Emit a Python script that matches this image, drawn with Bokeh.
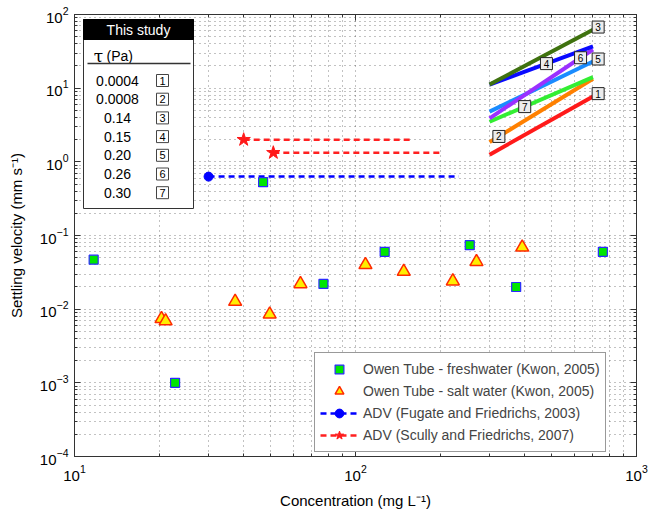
import math
from bokeh.plotting import figure
from bokeh.models import (LogAxis, Legend, LegendItem, Range1d, LinearScale,
                          CustomJSTickFormatter, FixedTicker, LogTickFormatter)
from bokeh.core.properties import value
from bokeh.embed import file_html
from bokeh.resources import INLINE

FONT = "Liberation Sans"

# ---------------- data ----------------
# Owen tube - freshwater (Kwon, 2005)
fresh_conc = [11.7, 22.8, 46.9, 76.9, 127, 255, 373, 759]
fresh_ws = [0.047, 0.001, 0.53, 0.022, 0.060, 0.074, 0.020, 0.060]
# Owen tube - salt water (Kwon, 2005)
salt_conc = [20.4, 21.1, 37.3, 49.5, 63.7, 108.5, 148.5, 222, 269.5, 392]
salt_ws = [0.0074, 0.0069, 0.0127, 0.0085, 0.022, 0.040, 0.0324, 0.024, 0.044, 0.069]
# ADV (Fugate and Friedrichs, 2003)
fug_conc = [30, 233]
fug_ws = [0.63, 0.63]
# ADV (Scully and Friedrichs, 2007)
scully1_conc = [40, 158]
scully1_ws = [2.0, 2.0]
scully2_conc = [51, 200]
scully2_ws = [1.33, 1.33]
scully_star_conc = [40, 51]
scully_star_ws = [2.0, 1.33]
# This study
study_ids = ["1", "2", "3", "4", "5", "6", "7"]
study_tau = ["0.0004", "0.0008", "0.14", "0.15", "0.20", "0.26", "0.30"]
study_conc = [300, 700]
study_ws_start = [1.25, 1.85, 11.2, 11.2, 4.8, 3.9, 3.5]
study_ws_end = [7.7, 13.4, 62.0, 36.8, 23.0, 33.5, 14.1]
study_colors = ["#ff1a1a", "#ff8000", "#3f720f", "#0a0aff", "#1a8cff", "#9b30ff", "#33ee33"]
label_frac = [1.05, 0.09, 1.05, 0.55, 1.05, 0.88, 0.34]
draw_order = [0, 1, 6, 4, 5, 3, 2]

# axis ticks
x_major = [10, 100, 1000]
y_major = [1e-4, 1e-3, 1e-2, 1e-1, 1, 10, 100]
x_minor = [m * 10 ** e for e in (1, 2) for m in range(2, 10)]
y_minor = [m * 10.0 ** e for e in range(-4, 2) for m in range(2, 10)]

# ---------------- figure ----------------
p = figure(width=648, height=512, x_axis_type="log", y_axis_type="log",
           x_range=(10, 1000), y_range=(1e-4, 100), output_backend="svg",
           toolbar_location=None, min_border_left=74, min_border_right=12,
           min_border_top=14, min_border_bottom=56)
p.outline_line_color = "#333333"
p.background_fill_color = "white"
p.border_fill_color = "white"

xt = FixedTicker(ticks=x_major, minor_ticks=x_minor)
yt = FixedTicker(ticks=y_major, minor_ticks=y_minor)
p.xaxis.ticker = xt
p.yaxis.ticker = yt
p.xgrid.ticker = xt
p.ygrid.ticker = yt
p.xaxis.formatter = LogTickFormatter()
p.yaxis.formatter = LogTickFormatter()

for ax in [p.xaxis[0], p.yaxis[0]]:
    ax.major_tick_in = 6
    ax.major_tick_out = 0
    ax.minor_tick_in = 3
    ax.minor_tick_out = 0
    ax.axis_line_color = "#333333"
    ax.major_tick_line_color = "#333333"
    ax.minor_tick_line_color = "#333333"
    ax.major_label_text_font = FONT
    ax.major_label_text_font_size = "15px"
    ax.major_label_text_color = "black"
    ax.axis_label_text_font = FONT
    ax.axis_label_text_font_size = "15px"
    ax.axis_label_text_font_style = "normal"
    ax.axis_label_text_color = "black"
p.xaxis.axis_label = "Concentration (mg L\u207b\u00b9)"
p.yaxis.axis_label = "Settling velocity (mm s\u207b\u00b9)"
p.yaxis.major_label_standoff = 6
p.yaxis.axis_label_standoff = 12
p.xaxis.major_label_standoff = 8
p.xaxis.axis_label_standoff = 8

for loc, tk in [("right", yt), ("above", xt)]:
    a = LogAxis(ticker=tk, formatter=CustomJSTickFormatter(code="return ''"),
                major_tick_in=6, major_tick_out=0, minor_tick_in=3, minor_tick_out=0,
                axis_line_color="#333333", major_tick_line_color="#333333",
                minor_tick_line_color="#333333", major_label_standoff=0,
                axis_label_standoff=0, major_label_text_font_size="0px")
    p.add_layout(a, loc)

for g in [p.xgrid[0], p.ygrid[0]]:
    g.grid_line_color = "#333333"
    g.grid_line_dash = "1 4"
    g.grid_line_alpha = 0.6
    g.minor_grid_line_color = "#333333"
    g.minor_grid_line_dash = "1 4"
    g.minor_grid_line_alpha = 0.6

# ---------------- data glyphs ----------------
r_fug_line = p.line(fug_conc, fug_ws, line_color="#0000ff", line_width=2.5, line_dash="6 4")
r_sc1 = p.line(scully1_conc, scully1_ws, line_color="#ff2020", line_width=2.5, line_dash="6 4")
r_sc2 = p.line(scully2_conc, scully2_ws, line_color="#ff2020", line_width=2.5, line_dash="6 4")
r_fug_dot = p.scatter(fug_conc[:1], fug_ws[:1], marker="circle", size=9,
                      fill_color="#0000ff", line_color="#0000ff")
r_star = p.scatter(scully_star_conc, scully_star_ws, marker="star", size=14,
                   fill_color="#ff1a1a", line_color="#ff1a1a")

for i in draw_order:
    p.line(study_conc, [study_ws_start[i], study_ws_end[i]], line_color=study_colors[i],
           line_width=4)

lx, ly = [], []
for i in range(len(study_ids)):
    a0, a1 = math.log10(study_conc[0]), math.log10(study_conc[1])
    b0, b1 = math.log10(study_ws_start[i]), math.log10(study_ws_end[i])
    f = label_frac[i]
    lx.append(10 ** (a0 + f * (a1 - a0)))
    ly.append(10 ** (b0 + f * (b1 - b0)))
p.scatter(lx, ly, marker="square", size=12, fill_color="#ececec", line_color="#222222",
          line_width=1)
p.text(lx, ly, text=study_ids, text_align="center", text_baseline="middle",
       text_font=value(FONT), text_font_size="10px", text_color="black")

r_salt = p.scatter(salt_conc, salt_ws, marker="triangle", size=13, fill_color="#ffee00",
                   line_color="#ff2a00", line_width=1.5)
r_fresh = p.scatter(fresh_conc, fresh_ws, marker="square", size=9, fill_color="#00e600",
                    line_color="#2a2aff", line_width=1.2)

# ---------------- legend ----------------
legend = Legend(items=[
    LegendItem(label="Owen Tube - freshwater (Kwon, 2005)", renderers=[r_fresh]),
    LegendItem(label="Owen Tube - salt water (Kwon, 2005)", renderers=[r_salt]),
    LegendItem(label="ADV (Fugate and Friedrichs, 2003)", renderers=[r_fug_line, r_fug_dot]),
    LegendItem(label="ADV (Scully and Friedrichs, 2007)", renderers=[r_sc1, r_star]),
], location=(240, 4), glyph_width=38, glyph_height=22, label_height=22, spacing=0,
    padding=5, margin=0, label_standoff=5, label_text_font=FONT,
    label_text_font_size="14px", border_line_color="#333333", border_line_width=1,
    background_fill_color="white", background_fill_alpha=1.0)
p.add_layout(legend)

# ---------------- "This study" table (frame pixel coordinates) ----------------
FW, FH = 562, 442
p.extra_x_ranges = {"fx": Range1d(0, FW)}
p.extra_y_ranges = {"fy": Range1d(FH, 0)}
p.extra_x_scales = {"fx": LinearScale()}
p.extra_y_scales = {"fy": LinearScale()}
kw = dict(x_range_name="fx", y_range_name="fy")

box_l, box_r, box_t, box_b = 9, 119, 5, 194
head_b = 25
p.quad(left=[box_l], right=[box_r], top=[box_t], bottom=[box_b], fill_color="white",
       line_color="#333333", line_width=1, **kw)
p.quad(left=[box_l], right=[box_r], top=[box_t], bottom=[head_b], fill_color="black",
       line_color="black", **kw)
p.text([64], [15.5], text=["This study"], text_align="center", text_baseline="middle",
       text_font=value(FONT), text_font_size="14px", text_color="white", **kw)
p.text([24], [41], text=["\u03c4"], text_align="center", text_baseline="middle",
       text_font=value("DejaVu Serif"), text_font_size="17px", text_color="black", **kw)
p.text([32], [41], text=["(Pa)"], text_align="left", text_baseline="middle",
       text_font=value(FONT), text_font_size="14px", text_color="black", **kw)
p.line([13, 116], [49, 49], line_color="#333333", line_width=1.5, **kw)

row_y = [66 + 18.7 * i for i in range(len(study_tau))]
p.text([43] * len(study_tau), row_y, text=study_tau, text_align="center",
       text_baseline="middle", text_font=value(FONT), text_font_size="14px",
       text_color="black", **kw)
p.scatter([88] * len(study_ids), row_y, marker="square", size=12, fill_color="white",
          line_color="#444444", line_width=1, **kw)
p.text([88] * len(study_ids), row_y, text=study_ids, text_align="center",
       text_baseline="middle", text_font=value(FONT), text_font_size="11px",
       text_color="black", **kw)

open("out.html", "w").write(file_html(p, INLINE))
